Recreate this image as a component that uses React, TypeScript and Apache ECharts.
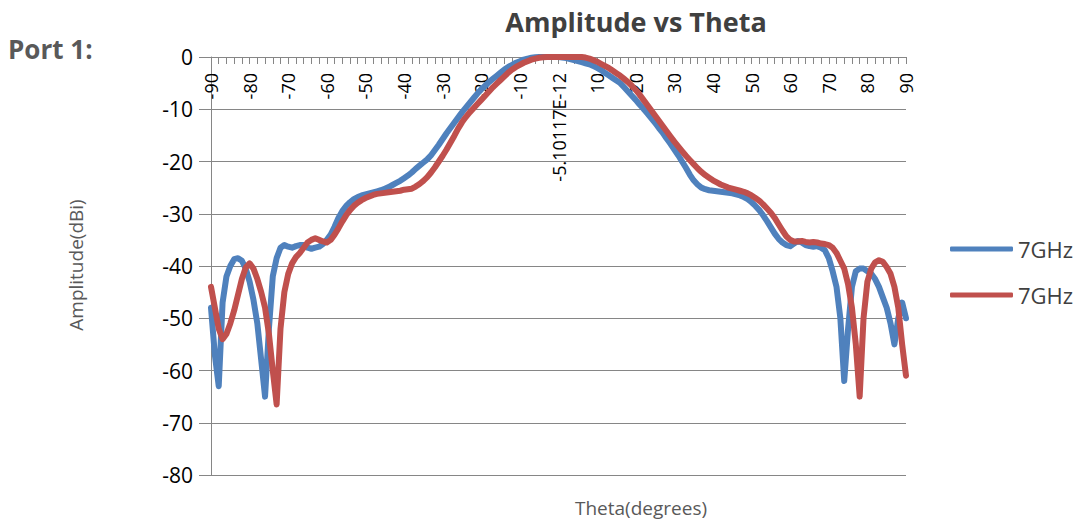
import React, { useEffect, useRef } from "react";
import * as echarts from "echarts";

const THETA: number[] = Array.from({ length: 181 }, (_, i) => i - 90);

const BLUE_7GHZ: number[] = [
  -48, -57, -63, -47, -42, -40, -38.7, -38.5, -39, -40.5,
  -43, -46.5, -51, -58, -65, -52, -42, -38.5, -36.5, -36,
  -36.3, -36.5, -36.2, -36, -36, -36.5, -36.7, -36.5, -36.3, -35.8,
  -35, -34, -32.5, -30.8, -29.5, -28.5, -27.8, -27.2, -26.8, -26.5,
  -26.3, -26.1, -25.9, -25.7, -25.5, -25.2, -24.9, -24.5, -24.1, -23.7,
  -23.2, -22.7, -22.1, -21.4, -20.8, -20.2, -19.6, -18.8, -17.8, -16.8,
  -15.7, -14.6, -13.6, -12.6, -11.6, -10.6, -9.7, -8.8, -7.9, -7.0,
  -6.2, -5.5, -4.8, -4.2, -3.6, -3.0, -2.4, -1.9, -1.5, -1.1,
  -0.8, -0.5, -0.3, -0.15, -0.05, 0, 0, 0, 0, 0,
  0, -0.1, -0.2, -0.4, -0.6, -0.8, -1.0, -1.2, -1.4, -1.7,
  -2.1, -2.5, -3.0, -3.5, -4.0, -4.5, -5.0, -5.8, -6.6, -7.4,
  -8.2, -9.1, -9.9, -10.8, -11.7, -12.6, -13.6, -14.5, -15.6, -16.6,
  -17.7, -18.8, -20, -21.2, -22.5, -23.6, -24.4, -25, -25.3, -25.5,
  -25.6, -25.7, -25.8, -25.9, -26, -26.1, -26.3, -26.5, -26.8, -27.2,
  -27.8, -28.5, -29.3, -30.3, -31.4, -32.6, -33.8, -34.8, -35.5, -36,
  -36.2, -35.7, -35.2, -35.5, -36, -36.2, -36.3, -36.2, -36.5, -37,
  -38.5, -41, -44, -50, -62, -52, -44, -41, -40.5, -40.5,
  -41, -41.5, -42.5, -44, -46, -48, -51, -55, -50, -47, -50,
];

const RED_7GHZ: number[] = [
  -44, -48, -52, -54, -53, -51, -48.5, -45.5, -42.5, -40.3,
  -39.5, -40.5, -42.5, -45, -48, -53, -60, -66.5, -52, -45,
  -41.5, -39.5, -38.3, -37.5, -36.5, -35.5, -35, -34.7, -35, -35.3,
  -35.5, -35, -34, -32.8, -31.5, -30.3, -29.3, -28.5, -27.9, -27.4,
  -27, -26.7, -26.4, -26.2, -26.1, -26, -25.9, -25.8, -25.7, -25.6,
  -25.4, -25.3, -25.2, -24.8, -24.3, -23.7, -23.0, -22.1, -21.1, -20.0,
  -18.9, -17.7, -16.4, -15.1, -13.7, -12.5, -11.5, -10.6, -9.8, -9.0,
  -8.2, -7.4, -6.6, -5.8, -5.1, -4.4, -3.7, -3.0, -2.4, -1.9,
  -1.5, -1.1, -0.8, -0.5, -0.3, -0.15, -0.05, 0, 0, 0,
  0, 0, 0, 0, 0, 0, 0, -0.1, -0.3, -0.6,
  -0.9, -1.3, -1.7, -2.1, -2.6, -3.1, -3.6, -4.2, -4.8, -5.5,
  -6.3, -7.2, -8.2, -9.2, -10.2, -11.2, -12.2, -13.2, -14.2, -15.2,
  -16.2, -17.1, -18.0, -18.9, -19.7, -20.5, -21.3, -22.0, -22.6, -23.1,
  -23.6, -24.0, -24.4, -24.7, -25.0, -25.2, -25.4, -25.6, -25.8, -26.1,
  -26.5, -27.0, -27.5, -28.2, -29.0, -29.8, -30.8, -32.0, -33.2, -34.3,
  -35.0, -35.3, -35.3, -35.2, -35.4, -35.5, -35.4, -35.5, -35.7, -35.8,
  -36, -36.5, -37.5, -39, -40.5, -43.5, -48, -55, -65, -50,
  -43, -40.5, -39.3, -38.9, -39.2, -40.2, -41.5, -44, -48, -55, -61,
];

const SERIES_NAMES = ["7GHz (blue)", "7GHz (red)"];
const LEGEND_LABEL = "7GHz";
const ZERO_LABEL = "-5.10117E-12";
const TITLE = "Amplitude vs Theta";
const PORT_LABEL = "Port 1:";
const Y_NAME = "Amplitude(dBi)";
const X_NAME = "Theta(degrees)";

const FONT = "'Open Sans', 'DejaVu Sans', sans-serif";
const AXIS_GRAY = "#868686";

export default function App() {
  const ref = useRef<HTMLDivElement>(null);

  useEffect(() => {
    if (!ref.current) return;
    const chart = echarts.init(ref.current, undefined, { renderer: "svg" });
    const blue = THETA.map((t, i) => [t, BLUE_7GHZ[i]]);
    const red = THETA.map((t, i) => [t, RED_7GHZ[i]]);
    chart.setOption({
      animation: false,
      backgroundColor: "#ffffff",
      grid: { left: 211, top: 57, width: 695, height: 418, containLabel: false },
      xAxis: {
        type: "value",
        position: "top",
        min: -90,
        max: 90,
        interval: 10,
        axisLine: { show: true, onZero: false, lineStyle: { color: AXIS_GRAY, width: 1 } },
        axisTick: { show: true, inside: true, length: 7, lineStyle: { color: AXIS_GRAY } },
        minorTick: { show: true, splitNumber: 5, length: 7, lineStyle: { color: AXIS_GRAY } },
        splitLine: { show: false },
        axisLabel: {
          inside: true,
          rotate: -90,
          margin: 16,
          color: "#000000",
          fontFamily: FONT,
          fontSize: 18,
          formatter: (v: number) => (v === 0 ? ZERO_LABEL : String(v)),
        },
      },
      yAxis: {
        type: "value",
        min: -80,
        max: 0,
        interval: 10,
        axisLine: { show: true, onZero: false, lineStyle: { color: AXIS_GRAY, width: 1 } },
        axisTick: { show: true, inside: false, length: 12, lineStyle: { color: AXIS_GRAY } },
        splitLine: { show: true, lineStyle: { color: AXIS_GRAY, width: 1 } },
        axisLabel: {
          margin: 18,
          color: "#000000",
          fontFamily: FONT,
          fontSize: 21,
        },
      },
      legend: {
        orient: "vertical",
        left: 945,
        top: 233,
        itemWidth: 63,
        itemHeight: 5,
        itemGap: 24,
        icon: "roundRect",
        data: SERIES_NAMES,
        formatter: () => LEGEND_LABEL,
        textStyle: { color: "#404040", fontFamily: FONT, fontSize: 22 },
      },
      series: [
        {
          name: SERIES_NAMES[0],
          type: "line",
          data: blue,
          showSymbol: false,
          lineStyle: { color: "#4F81BD", width: 6, cap: "round", join: "round" },
          itemStyle: { color: "#4F81BD" },
        },
        {
          name: SERIES_NAMES[1],
          type: "line",
          data: red,
          showSymbol: false,
          lineStyle: { color: "#C0504D", width: 6, cap: "round", join: "round" },
          itemStyle: { color: "#C0504D" },
        },
      ],
      graphic: [
        {
          type: "text",
          x: 636,
          y: 21,
          style: {
            text: TITLE,
            fill: "#404040",
            font: `bold 27px ${FONT}`,
            textAlign: "center",
            textVerticalAlign: "middle",
          },
        },
        {
          type: "text",
          x: 8,
          y: 49,
          style: {
            text: PORT_LABEL,
            fill: "#595959",
            font: `bold 26px ${FONT}`,
            textAlign: "left",
            textVerticalAlign: "middle",
          },
        },
        {
          type: "text",
          x: 76,
          y: 265,
          rotation: Math.PI / 2,
          style: {
            text: Y_NAME,
            fill: "#595959",
            font: `19px ${FONT}`,
            textAlign: "center",
            textVerticalAlign: "middle",
          },
        },
        {
          type: "text",
          x: 641,
          y: 508,
          style: {
            text: X_NAME,
            fill: "#595959",
            font: `19px ${FONT}`,
            textAlign: "center",
            textVerticalAlign: "middle",
          },
        },
      ],
    });
    return () => chart.dispose();
  }, []);

  return (
    <div
      ref={ref}
      style={{ position: "absolute", left: 0, top: 0, width: 1081, height: 525 }}
    />
  );
}
